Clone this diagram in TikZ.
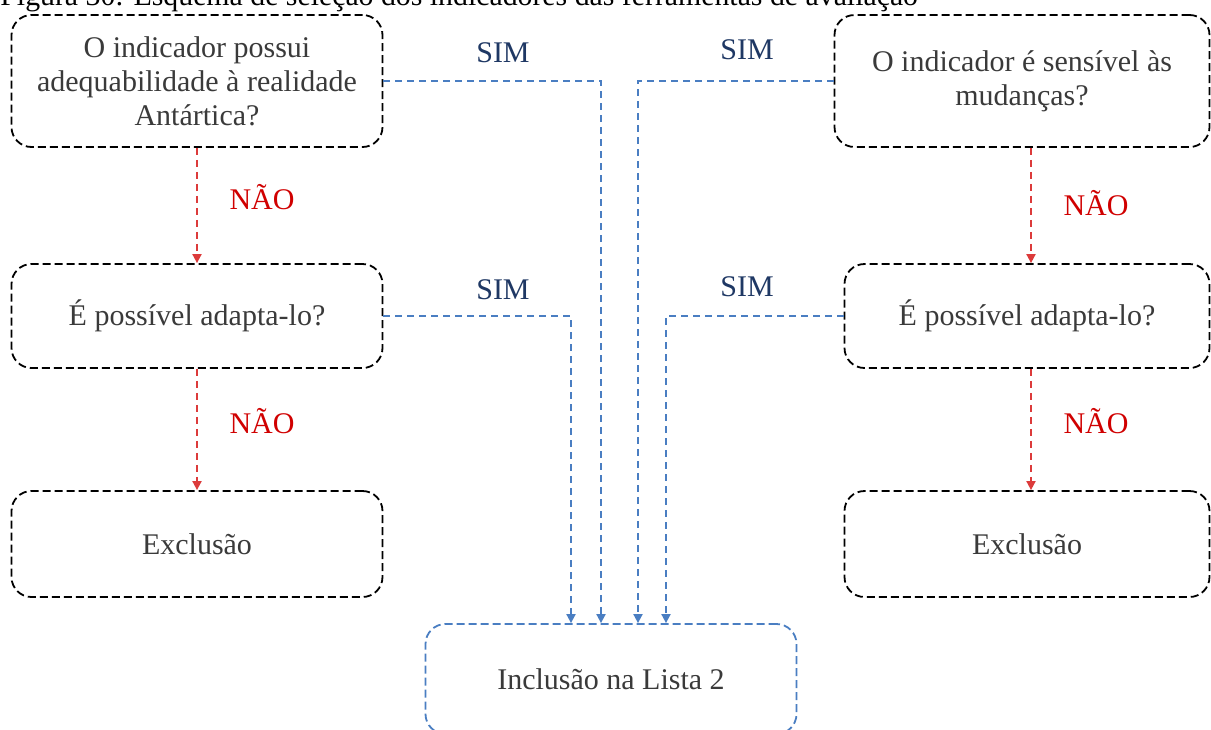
\documentclass[tikz,border=0pt]{standalone}
\usepackage{fontspec}
\setmainfont{Liberation Serif}
\usetikzlibrary{arrows.meta, calc}

\definecolor{boxtext}{HTML}{3A3A3A}
\definecolor{simblue}{HTML}{4A7EC2}
\definecolor{simtext}{HTML}{1F3864}
\definecolor{naored}{HTML}{DC3B3B}
\definecolor{naotext}{HTML}{D00000}

\begin{document}
\begin{tikzpicture}[
    % --- Global styles (1 unit = 1 px of the 1211x729 frame) ---
    x=0.5pt, y=-0.5pt,
    >={Triangle[length=4.5pt,width=4.5pt]},
    every node/.style={font=\fontsize{15}{17}\selectfont, text=boxtext},
    % --- Boxes ---
    question/.style={
      draw=black, dash pattern=on 4pt off 2pt, line width=0.9pt,
      rounded corners=10pt, inner sep=0pt,
      minimum width=185.5pt, minimum height=66pt,
      align=center,
    },
    result/.style={question, minimum height=53pt},
    target/.style={question, draw=simblue, minimum height=55pt},
    % --- Arrow styles ---
    sim/.style={->, draw=simblue, dash pattern=on 3.5pt off 2.5pt, line width=0.9pt},
    nao/.style={->, draw=naored, dash pattern=on 3.5pt off 2.5pt, line width=0.9pt},
    % --- Label styles ---
    simlbl/.style={text=simtext},
    naolbl/.style={text=naotext},
  ]

  \useasboundingbox (0,0) rectangle (1211,729);

  %% ---- Caption (cut at the top) ----
  \node[anchor=base west, inner sep=0pt, text=black,
        font=\fontsize{14.9}{17}\selectfont] (caption) at (0,5)
    {Figura 30: Esquema de seleção dos indicadores das ferramentas de avaliação};

  %% ---- Left column ----
  \node[question] (adeq) at (197,81)
    {O indicador possui\\ adequabilidade à realidade\\ Antártica?};
  \node[result, minimum height=52pt] (adaptL) at (197,316)
    {É possível adapta-lo?};
  \node[result] (exclL) at (197,544)
    {Exclusão};

  %% ---- Right column ----
  \node[question, minimum width=187.5pt] (sens) at (1022,81)
    {O indicador é sensível às\\ mudanças?};
  \node[result, minimum width=182.5pt, minimum height=52pt] (adaptR) at (1027,316)
    {É possível adapta-lo?};
  \node[result, minimum width=182.5pt] (exclR) at (1027,544)
    {Exclusão};

  %% ---- Target ----
  \node[target] (lista) at (611,679)
    {Inclusão na Lista 2};

  %% ---- SIM arrows ----
  \draw[sim] (adeq.east) -| ([xshift=-5pt]lista.north);
  \draw[sim] (adaptL.east) -| ([xshift=-20pt]lista.north);
  \draw[sim] (sens.west) -| ([xshift=13.5pt]lista.north);
  \draw[sim] (adaptR.west) -| ([xshift=27.5pt]lista.north);

  %% ---- NÃO arrows ----
  \draw[nao] (adeq.south) -- (adaptL.north);
  \draw[nao] (adaptL.south) -- (exclL.north);
  \draw[nao] ([xshift=4.5pt]sens.south) -- ([xshift=4.5pt]sens.south |- adaptR.north);
  \draw[nao] ([xshift=2pt]adaptR.south) -- ([xshift=2pt]exclR.north);

  %% ---- Labels ----
  \node[simlbl] (simA) at (503,53) {SIM};
  \node[simlbl] (simD) at (747,50) {SIM};
  \node[simlbl] (simB) at (503,290) {SIM};
  \node[simlbl] (simE) at (747,287) {SIM};

  \node[naolbl] (naoA) at (262,197) {NÃO};
  \node[naolbl] (naoB) at (262,421) {NÃO};
  \node[naolbl] (naoD) at (1096,203) {NÃO};
  \node[naolbl] (naoE) at (1096,421) {NÃO};

\end{tikzpicture}
\end{document}
